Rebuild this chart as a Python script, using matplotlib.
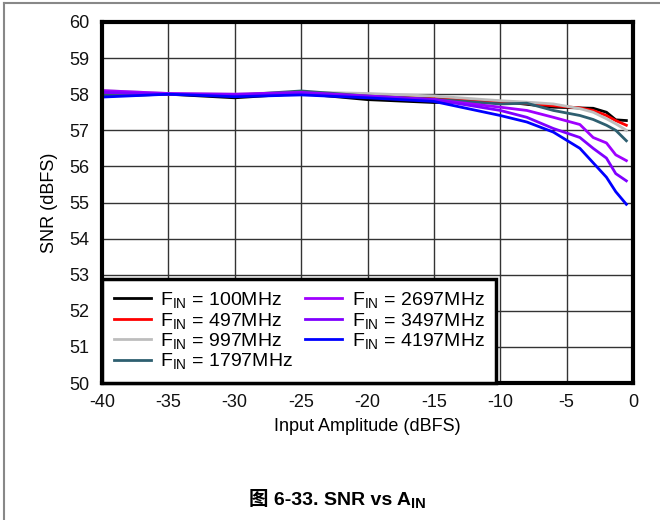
import matplotlib
matplotlib.use("Agg")
import matplotlib.pyplot as plt

plt.rcParams['font.family'] = ['Liberation Sans', 'Noto Sans CJK SC', 'DejaVu Sans']
plt.rcParams['mathtext.fontset'] = 'custom'
plt.rcParams['mathtext.rm'] = 'Liberation Sans'
plt.rcParams['mathtext.it'] = 'Liberation Sans:italic'
plt.rcParams['mathtext.bf'] = 'Liberation Sans:bold'

amp = [-40, -35, -30, -25, -20, -15, -10, -8, -6, -4, -3, -2, -1.3, -0.5]

snr_100 = [57.95, 58.0, 57.9, 58.02, 57.85, 57.77, 57.8, 57.72, 57.64, 57.62, 57.61, 57.5, 57.29, 57.27]
snr_497 = [58.05, 58.0, 57.98, 58.05, 57.95, 57.88, 57.8, 57.74, 57.68, 57.62, 57.55, 57.41, 57.27, 57.14]
snr_997 = [58.1, 58.02, 58.0, 58.06, 58.02, 57.95, 57.82, 57.78, 57.73, 57.6, 57.5, 57.32, 57.18, 57.0]
snr_1797 = [57.98, 58.0, 57.97, 58.09, 57.95, 57.86, 57.73, 57.75, 57.55, 57.41, 57.3, 57.14, 57.0, 56.71]
snr_2697 = [58.1, 58.02, 58.0, 58.05, 57.95, 57.85, 57.64, 57.55, 57.36, 57.16, 56.8, 56.65, 56.32, 56.16]
snr_3497 = [58.05, 58.0, 57.98, 58.03, 57.93, 57.85, 57.55, 57.36, 57.05, 56.8, 56.5, 56.23, 55.8, 55.6]
snr_4197 = [57.92, 58.0, 57.93, 57.98, 57.9, 57.8, 57.41, 57.23, 56.95, 56.5, 56.1, 55.7, 55.3, 54.95]

labels = [r"F$_{\mathrm{IN}}$ = 100MHz", r"F$_{\mathrm{IN}}$ = 497MHz", r"F$_{\mathrm{IN}}$ = 997MHz",
          r"F$_{\mathrm{IN}}$ = 1797MHz", r"F$_{\mathrm{IN}}$ = 2697MHz", r"F$_{\mathrm{IN}}$ = 3497MHz",
          r"F$_{\mathrm{IN}}$ = 4197MHz"]
colors = ['#000000', '#ff0000', '#bdbdbd', '#2e5f70', '#a000ff', '#7f00ff', '#0000ff']
series = [snr_100, snr_497, snr_997, snr_1797, snr_2697, snr_3497, snr_4197]

xticks = [-40, -35, -30, -25, -20, -15, -10, -5, 0]
yticks = [50, 51, 52, 53, 54, 55, 56, 57, 58, 59, 60]

fig = plt.figure(figsize=(6.6, 5.2), dpi=100)
ax = fig.add_axes([102/660, 1-383/520, (633-102)/660, (383-22)/520])

for s, c, l in zip(series, colors, labels):
    ax.plot(amp, s, color=c, lw=2, label=l)

ax.set_xlim(-40, 0)
ax.set_ylim(50, 60)
ax.set_xticks(xticks)
ax.set_yticks(yticks)
ax.set_xticklabels([str(t) for t in xticks])
ax.set_yticklabels([str(t) for t in yticks])
ax.tick_params(length=0, labelsize=13, pad=9, colors='#111111')
ax.tick_params(axis='x', pad=8)
ax.grid(True, color='#333333', lw=1)
ax.set_axisbelow(True)
for sp in ax.spines.values():
    sp.set_linewidth(3)
    sp.set_color('black')

ax.set_xlabel("Input Amplitude (dBFS)", fontsize=13, labelpad=5)
ax.set_ylabel("SNR (dBFS)", fontsize=13, labelpad=8)

leg = ax.legend(ncol=2, loc='lower left', bbox_to_anchor=(0.0, 0.0), fontsize=14,
                frameon=True, fancybox=False, framealpha=1, edgecolor='black',
                handlelength=1.9, handletextpad=0.5, columnspacing=0.6,
                labelspacing=0.02, borderpad=0.6, borderaxespad=0.0)
leg.get_frame().set_linewidth(2.5)

# caption
fig.canvas.draw()
r = fig.canvas.get_renderer()
t1 = fig.text(0, 1-505/520, "图 6-33. SNR vs A", fontsize=14, fontweight='bold',
              ha='left', va='baseline')
t2 = fig.text(0, 1-508/520, "IN", fontsize=10.5, fontweight='bold', ha='left', va='baseline')
w1 = t1.get_window_extent(r).width
w2 = t2.get_window_extent(r).width
x0 = 337 - (w1 + w2) / 2
t1.set_x(x0/660)
t2.set_x((x0 + w1)/660)

# figure border (left and top)
fig.add_artist(plt.Line2D([4/660, 4/660], [0, 1-3/520], transform=fig.transFigure, color='#888888', lw=1.5))
fig.add_artist(plt.Line2D([4/660, 1], [1-3/520, 1-3/520], transform=fig.transFigure, color='#888888', lw=1.5))

fig.savefig("out.png", dpi=100)
